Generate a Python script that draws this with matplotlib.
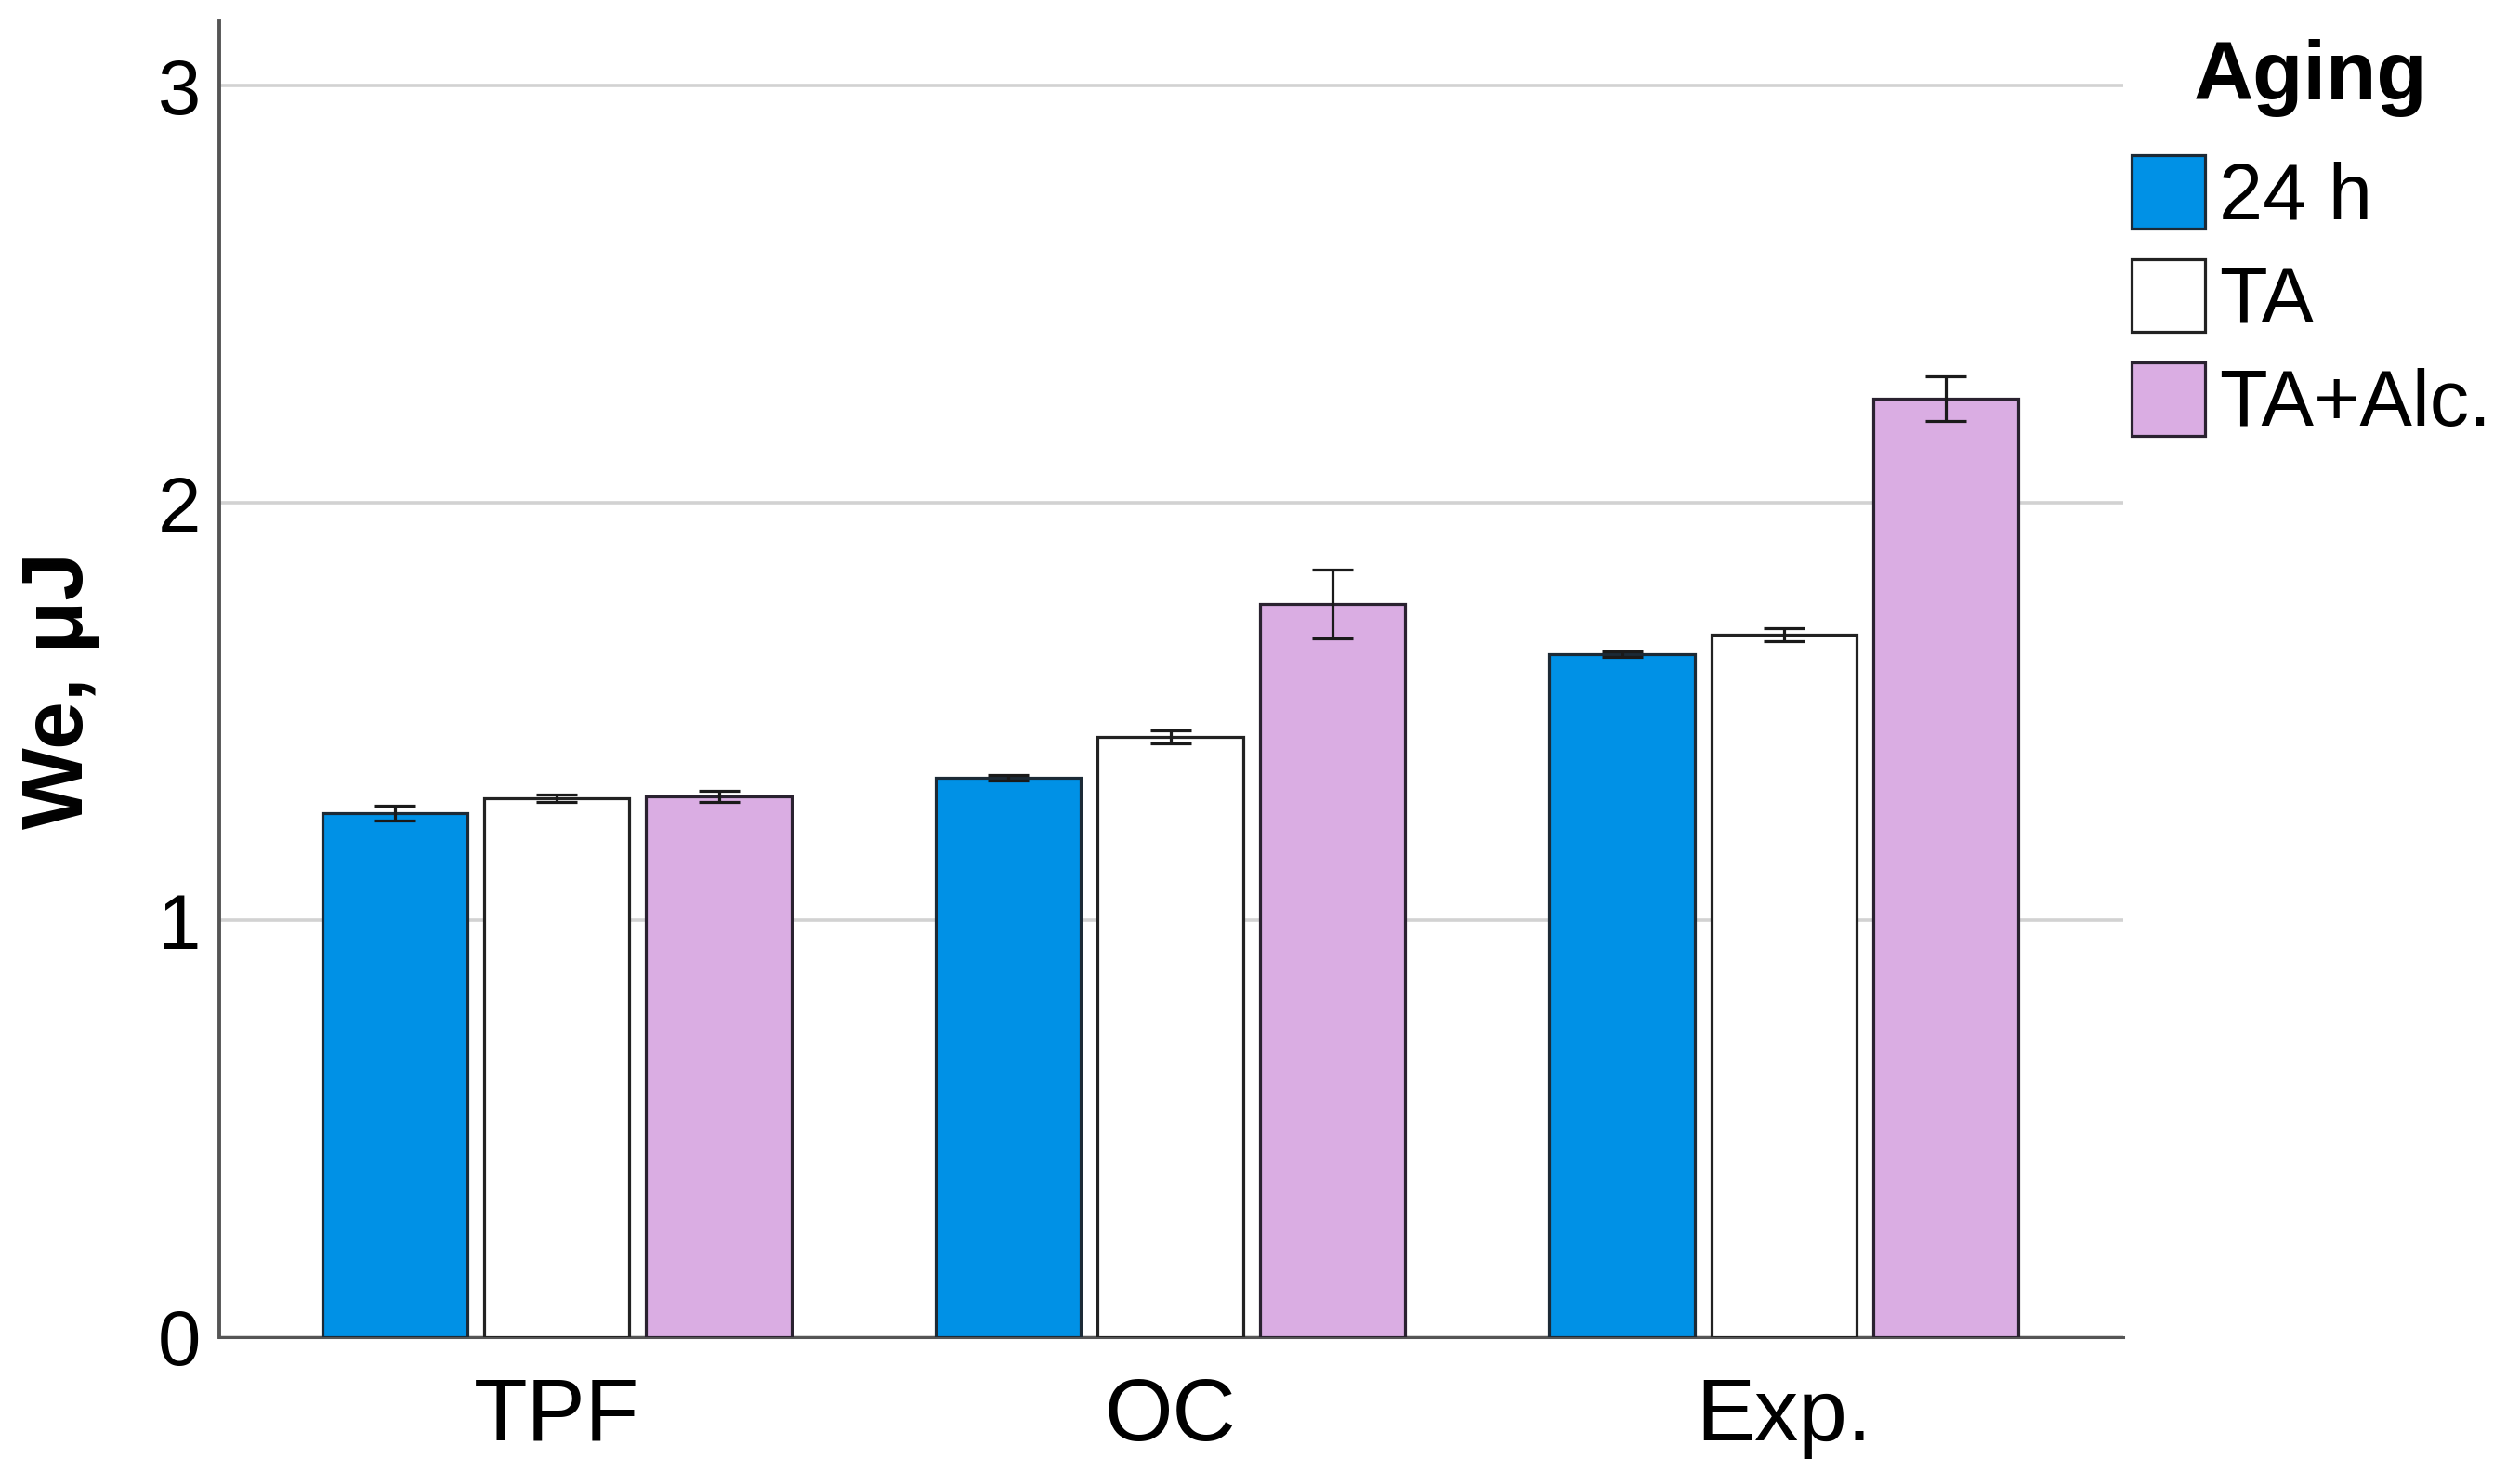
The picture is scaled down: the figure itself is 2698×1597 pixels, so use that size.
import matplotlib
matplotlib.use("Agg")
import matplotlib.pyplot as plt
import numpy as np

categories = ["TPF", "OC", "Exp."]
series_names = ["24 h", "TA", "TA+Alc."]
values_24h = [1.256, 1.341, 1.637]
values_ta = [1.292, 1.439, 1.684]
values_alc = [1.296, 1.757, 2.249]
err_24h = [0.018, 0.006, 0.006]
err_ta = [0.008, 0.016, 0.015]
err_alc = [0.014, 0.083, 0.053]
yticks = [0, 1, 2, 3]

plt.rcParams['font.family'] = ['Liberation Sans', 'DejaVu Sans']

W, H, DPI = 2698, 1597, 100
fig = plt.figure(figsize=(W / DPI, H / DPI), dpi=DPI)
L, R, B, T = 236, 2285, 1439, 22
ax = fig.add_axes([L / W, 1 - B / H, (R - L) / W, (B - T) / H])

colors = ["#0091E6", "#FFFFFF", "#DAADE3"]
edges = ["#1c2a36", "#222222", "#2a2230"]
vals = [values_24h, values_ta, values_alc]
errs = [err_24h, err_ta, err_alc]
x = np.arange(len(categories))
step = 0.264
width = 0.237
for i in range(3):
    xs = x + (i - 1) * step
    ax.bar(xs, vals[i], width=width, color=colors[i], edgecolor=edges[i],
           linewidth=2.3, label=series_names[i], zorder=3)
    ax.errorbar(xs, vals[i], yerr=errs[i], fmt='none', ecolor='#1a1a1a',
                elinewidth=2.3, capsize=16, capthick=2.3, zorder=4)

ax.set_xlim(-0.55, 2.553)
ax.set_ylim(0, 3.156)
ax.set_yticks(yticks)
ax.set_yticklabels([str(v) for v in yticks], fontsize=60)
ax.set_xticks(x)
ax.set_xticklabels(categories, fontsize=68)
ax.tick_params(axis='both', length=0)
ax.tick_params(axis='y', pad=14)
ax.tick_params(axis='x', pad=30)
ax.grid(axis='y', color='#d2d2d2', linewidth=2.6, zorder=0)
ax.set_axisbelow(True)
for s in ['top', 'right']:
    ax.spines[s].set_visible(False)
ax.spines['left'].set_color('#555555')
ax.spines['left'].set_linewidth(2.8)
ax.spines['bottom'].set_color('#555555')
ax.spines['bottom'].set_linewidth(2.2)

fig.text(65 / W, 1 - 743 / H, "We, μJ", rotation=90, fontsize=67,
         fontweight='bold', ha='center', va='center')

fig.text(2487 / W, 1 - 84 / H, "Aging", fontsize=64, fontweight='bold',
         ha='center', va='center')

leg = fig.legend(loc='upper left', bbox_to_anchor=(2294 / W, 1 - 167 / H),
                 frameon=False, fontsize=61,
                 handlelength=0.93, handleheight=1.05, handletextpad=0.18,
                 labelspacing=0.3, borderpad=0, borderaxespad=0)

fig.savefig("out.png", dpi=DPI)
